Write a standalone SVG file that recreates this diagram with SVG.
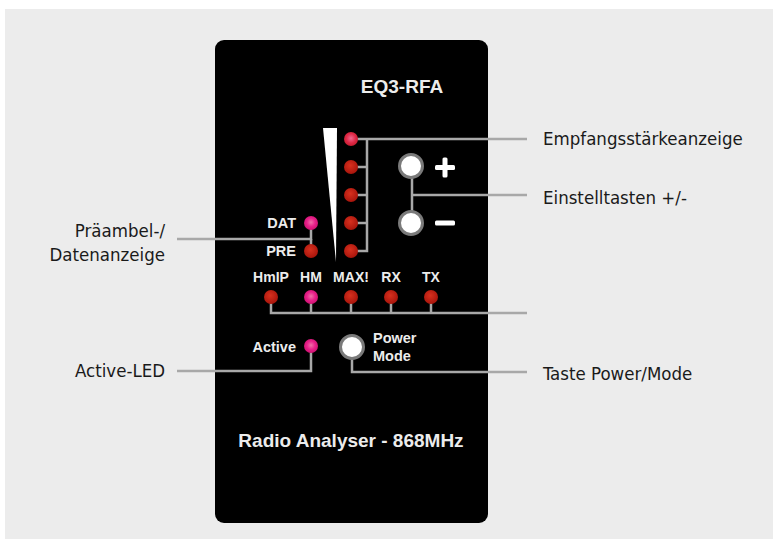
<svg xmlns="http://www.w3.org/2000/svg" width="778" height="546" viewBox="0 0 778 546">
<defs>
<radialGradient id="gRed" cx="0.45" cy="0.4" r="0.6">
<stop offset="0" stop-color="#d8301e"/>
<stop offset="1" stop-color="#a8150c"/>
</radialGradient>
<radialGradient id="gPink" cx="0.5" cy="0.45" r="0.6">
<stop offset="0" stop-color="#f070a8"/>
<stop offset="0.5" stop-color="#e8208a"/>
<stop offset="1" stop-color="#c80e6a"/>
</radialGradient>
<radialGradient id="gRedPink" cx="0.5" cy="0.45" r="0.6">
<stop offset="0" stop-color="#f06890"/>
<stop offset="0.55" stop-color="#e02a48"/>
<stop offset="1" stop-color="#c01a2a"/>
</radialGradient>
</defs>
<style>
.pt{font-family:"Liberation Sans",Arial,sans-serif;font-weight:bold;fill:#ececec}
.lbl{font-family:"DejaVu Sans Condensed","DejaVu Sans",sans-serif;font-stretch:condensed;font-size:18.5px;fill:#1a1a1a}
.ln{fill:none;stroke:#a8a8a8;stroke-width:2.5}
.btn{fill:#ffffff;stroke:#7a7a7a;stroke-width:3}
.sym{fill:#ffffff}
</style>
<rect x="5" y="9" width="768" height="530" fill="#ececec"/>
<g id="panel">
<rect x="215" y="40" width="273" height="483" rx="9" fill="#000"/>
<text class="pt" x="402" y="93" font-size="19" text-anchor="middle">EQ3-RFA</text>
<polygon points="323,128 337,128 336,262" fill="#ffffff"/>
<text class="pt" x="351" y="447" font-size="19" text-anchor="middle">Radio Analyser - 868MHz</text>
</g>
<g id="connectors">
<polyline class="ln" points="351,139 527,139"/>
<polyline class="ln" points="367,139 367,251 351,251"/>
<line class="ln" x1="351" y1="167" x2="367" y2="167"/>
<line class="ln" x1="351" y1="195" x2="367" y2="195"/>
<line class="ln" x1="351" y1="223" x2="367" y2="223"/>
<line class="ln" x1="412" y1="166" x2="412" y2="223"/>
<line class="ln" x1="412" y1="195" x2="527" y2="195"/>
<polyline class="ln" points="311,223 311,239 177,239"/>
<line class="ln" x1="311" y1="239" x2="311" y2="251"/>
<polyline class="ln" points="271,297 271,313 527,313"/>
<line class="ln" x1="311" y1="297" x2="311" y2="313"/>
<line class="ln" x1="351" y1="297" x2="351" y2="313"/>
<line class="ln" x1="391" y1="297" x2="391" y2="313"/>
<line class="ln" x1="431" y1="297" x2="431" y2="313"/>
<polyline class="ln" points="311,346 311,371 177,371"/>
<polyline class="ln" points="352,347 352,372 527,372"/>
</g>
<g id="signal-leds">
<circle cx="351" cy="139" r="7" fill="url(#gRedPink)"/>
<circle cx="351" cy="167" r="7" fill="url(#gRed)"/>
<circle cx="351" cy="195" r="7" fill="url(#gRed)"/>
<circle cx="351" cy="223" r="7" fill="url(#gRed)"/>
<circle cx="351" cy="251" r="7" fill="url(#gRed)"/>
</g>
<g id="plus-minus">
<circle class="btn" cx="411" cy="166" r="11.5"/>
<circle class="btn" cx="411" cy="223" r="11.5"/>
<rect class="sym" x="435" y="165" width="20" height="5" rx="1.5"/>
<rect class="sym" x="442.5" y="157.5" width="5" height="20" rx="1.5"/>
<rect class="sym" x="435" y="220.5" width="20" height="5" rx="1.5"/>
</g>
<g id="dat-pre">
<text class="pt" x="296" y="228" font-size="14.5" text-anchor="end">DAT</text>
<text class="pt" x="296" y="256" font-size="14.5" text-anchor="end">PRE</text>
<circle cx="311" cy="223" r="7" fill="url(#gPink)"/>
<circle cx="311" cy="251" r="7" fill="url(#gRed)"/>
</g>
<g id="mode-leds">
<text class="pt" x="271" y="282" font-size="14" text-anchor="middle">HmIP</text>
<text class="pt" x="311" y="282" font-size="14" text-anchor="middle">HM</text>
<text class="pt" x="351" y="282" font-size="14" text-anchor="middle">MAX!</text>
<text class="pt" x="391" y="282" font-size="14" text-anchor="middle">RX</text>
<text class="pt" x="431" y="282" font-size="14" text-anchor="middle">TX</text>
<circle cx="271" cy="297" r="7" fill="url(#gRed)"/>
<circle cx="311" cy="297" r="7" fill="url(#gPink)"/>
<circle cx="351" cy="297" r="7" fill="url(#gRed)"/>
<circle cx="391" cy="297" r="7" fill="url(#gRed)"/>
<circle cx="431" cy="297" r="7" fill="url(#gRed)"/>
</g>
<g id="active-led">
<text class="pt" x="296" y="352" font-size="14.5" text-anchor="end">Active</text>
<circle cx="311" cy="346" r="7" fill="url(#gPink)"/>
</g>
<g id="power-button">
<circle class="btn" cx="352" cy="347" r="11.5"/>
<text class="pt" x="373" y="343" font-size="14.5">Power</text>
<text class="pt" x="373" y="361" font-size="14.5">Mode</text>
</g>
<g id="label-empfang"><text class="lbl" x="543" y="145">Empfangsstärkeanzeige</text></g>
<g id="label-einstell"><text class="lbl" x="543" y="204">Einstelltasten +/-</text></g>
<g id="label-power"><text class="lbl" x="543" y="380">Taste Power/Mode</text></g>
<g id="label-praeambel">
<text class="lbl" x="165" y="237" text-anchor="end">Präambel-/</text>
<text class="lbl" x="165" y="261" text-anchor="end">Datenanzeige</text>
</g>
<g id="label-active"><text class="lbl" x="165" y="377" text-anchor="end">Active-LED</text></g>
</svg>
